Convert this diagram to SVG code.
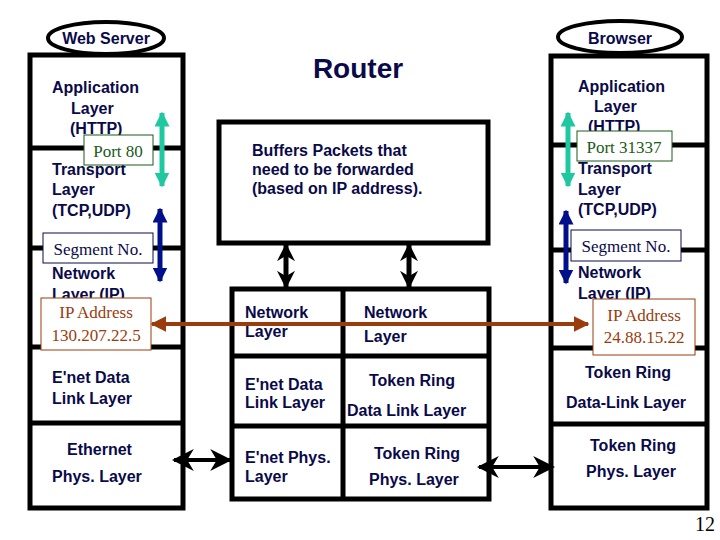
<svg xmlns="http://www.w3.org/2000/svg" width="720" height="540" viewBox="0 0 720 540">
<defs>
<style>
.box{fill:none;stroke:#000;stroke-width:5}
.ln{stroke:#000;stroke-width:5}
.t{font-family:"Liberation Sans",Arial,sans-serif;font-size:16px;font-weight:bold;fill:#0a0a4a}
.s{font-family:"Liberation Serif","Times New Roman",serif;font-size:17px}
</style>
<marker id="bk" viewBox="0 0 10 10" refX="9" refY="5" markerWidth="5.5" markerHeight="5.5" orient="auto-start-reverse"><path d="M0,0L10,5L0,10L3,5z" fill="#000"/></marker>
<marker id="bk2" viewBox="0 0 10 10" refX="9" refY="5" markerWidth="3.6" markerHeight="4.4" orient="auto-start-reverse"><path d="M0,0L10,5L0,10L3,5z" fill="#000"/></marker>
<marker id="tl" viewBox="0 0 10 10" refX="9" refY="5" markerWidth="3" markerHeight="3" orient="auto-start-reverse"><path d="M0,0L10,5L0,10z" fill="#1fc8a0"/></marker>
<marker id="bl" viewBox="0 0 10 10" refX="9" refY="5" markerWidth="3" markerHeight="3" orient="auto-start-reverse"><path d="M0,0L10,5L0,10z" fill="#00108a"/></marker>
<marker id="br" viewBox="0 0 10 10" refX="9" refY="5" markerWidth="4" markerHeight="4" orient="auto-start-reverse"><path d="M0,0L10,5L0,10z" fill="#9a3c0c"/></marker>
</defs>
<rect width="720" height="540" fill="#fff"/>

<g id="webserver">
<ellipse cx="106" cy="38" rx="58" ry="16" fill="#fff" stroke="#000" stroke-width="4"/>
<text class="t" x="106" y="44" text-anchor="middle">Web Server</text>
<rect class="box" x="30" y="55" width="153" height="453"/>
<line class="ln" x1="30" y1="148" x2="183" y2="148"/>
<line class="ln" x1="30" y1="248" x2="183" y2="248"/>
<line class="ln" x1="30" y1="347" x2="183" y2="347"/>
<line class="ln" x1="30" y1="423" x2="183" y2="423"/>
<text class="t" x="52" y="93">Application</text>
<text class="t" x="71" y="114">Layer</text>
<text class="t" x="70" y="134">(HTTP)</text>
<text class="t" x="52" y="175">Transport</text>
<text class="t" x="52" y="195">Layer</text>
<text class="t" x="52" y="216">(TCP,UDP)</text>
<text class="t" x="52" y="279">Network</text>
<text class="t" x="52" y="300">Layer (IP)</text>
<text class="t" x="52" y="383">E'net Data</text>
<text class="t" x="52" y="404">Link Layer</text>
<text class="t" x="67" y="455">Ethernet</text>
<text class="t" x="52" y="482">Phys. Layer</text>
<rect x="84" y="135" width="69" height="30" fill="#fff" stroke="#1a5a1a" stroke-width="1"/>
<text class="s" x="118" y="157" text-anchor="middle" fill="#1a5a1a">Port 80</text>
<rect x="43" y="233" width="110" height="30" fill="#fff" stroke="#0a0a4a" stroke-width="1"/>
<text class="s" x="98" y="255" text-anchor="middle" fill="#0a0a4a">Segment No.</text>
<rect x="41" y="298" width="110" height="52" fill="#fff" stroke="#9a3c0c" stroke-width="1"/>
<text class="s" x="96" y="318" text-anchor="middle" fill="#9a3c0c">IP Address</text>
<text class="s" x="96" y="341" text-anchor="middle" fill="#9a3c0c">130.207.22.5</text>
</g>

<g id="router">
<text x="358" y="78" text-anchor="middle" font-family="Liberation Sans,Arial,sans-serif" font-size="28" font-weight="bold" fill="#0a0a4a">Router</text>
<rect class="box" x="219" y="122" width="269" height="121"/>
<text class="t" x="252" y="156">Buffers Packets that</text>
<text class="t" x="252" y="175">need to be forwarded</text>
<text class="t" x="252" y="194">(based on IP address).</text>
<rect class="box" x="232" y="289" width="257" height="210"/>
<line class="ln" x1="232" y1="356" x2="489" y2="356"/>
<line class="ln" x1="232" y1="426" x2="489" y2="426"/>
<line class="ln" x1="343" y1="289" x2="343" y2="499"/>
<text class="t" x="245" y="318">Network</text>
<text class="t" x="245" y="337">Layer</text>
<text class="t" x="364" y="318">Network</text>
<text class="t" x="364" y="342">Layer</text>
<text class="t" x="245" y="390">E'net Data</text>
<text class="t" x="245" y="408">Link Layer</text>
<text class="t" x="369" y="386">Token Ring</text>
<text class="t" x="347" y="416">Data Link Layer</text>
<text class="t" x="245" y="463">E'net Phys.</text>
<text class="t" x="245" y="482">Layer</text>
<text class="t" x="374" y="459">Token Ring</text>
<text class="t" x="369" y="485">Phys. Layer</text>
</g>

<g id="browser">
<ellipse cx="620" cy="37" rx="62" ry="16" fill="#fff" stroke="#000" stroke-width="4"/>
<text class="t" x="620" y="44" text-anchor="middle">Browser</text>
<rect class="box" x="551" y="56" width="156" height="452"/>
<line class="ln" x1="551" y1="145" x2="707" y2="145"/>
<line class="ln" x1="551" y1="250" x2="707" y2="250"/>
<line class="ln" x1="551" y1="348" x2="707" y2="348"/>
<line class="ln" x1="551" y1="424" x2="707" y2="424"/>
<text class="t" x="578" y="92">Application</text>
<text class="t" x="594" y="112">Layer</text>
<text class="t" x="588" y="132">(HTTP)</text>
<text class="t" x="578" y="174">Transport</text>
<text class="t" x="578" y="195">Layer</text>
<text class="t" x="578" y="215">(TCP,UDP)</text>
<text class="t" x="578" y="278">Network</text>
<text class="t" x="578" y="299">Layer (IP)</text>
<text class="t" x="628" y="378" text-anchor="middle">Token Ring</text>
<text class="t" x="626" y="408" text-anchor="middle">Data-Link Layer</text>
<text class="t" x="633" y="451" text-anchor="middle">Token Ring</text>
<text class="t" x="631" y="477" text-anchor="middle">Phys. Layer</text>
<rect x="577" y="131" width="95" height="30" fill="#fff" stroke="#1a5a1a" stroke-width="1"/>
<text class="s" x="624" y="153" text-anchor="middle" fill="#1a5a1a">Port 31337</text>
<rect x="571" y="230" width="110" height="31" fill="#fff" stroke="#0a0a4a" stroke-width="1"/>
<text class="s" x="626" y="252" text-anchor="middle" fill="#0a0a4a">Segment No.</text>
<rect x="593" y="299" width="102" height="56" fill="#fff" stroke="#9a3c0c" stroke-width="1"/>
<text class="s" x="644" y="321" text-anchor="middle" fill="#9a3c0c">IP Address</text>
<text class="s" x="644" y="343" text-anchor="middle" fill="#9a3c0c">24.88.15.22</text>
</g>

<g id="connectors">
<line x1="162" y1="113" x2="162" y2="186" stroke="#1fc8a0" stroke-width="5" marker-start="url(#tl)" marker-end="url(#tl)"/>
<line x1="160" y1="209" x2="160" y2="281" stroke="#00108a" stroke-width="5" marker-start="url(#bl)" marker-end="url(#bl)"/>
<line x1="568" y1="113" x2="568" y2="186" stroke="#1fc8a0" stroke-width="5" marker-start="url(#tl)" marker-end="url(#tl)"/>
<line x1="566" y1="211" x2="566" y2="283" stroke="#00108a" stroke-width="5" marker-start="url(#bl)" marker-end="url(#bl)"/>
<line x1="152" y1="324" x2="588" y2="324" stroke="#9a3c0c" stroke-width="4" marker-start="url(#br)" marker-end="url(#br)"/>
<line x1="286" y1="245" x2="286" y2="287" stroke="#000" stroke-width="5" marker-start="url(#bk2)" marker-end="url(#bk2)"/>
<line x1="409" y1="245" x2="409" y2="287" stroke="#000" stroke-width="5" marker-start="url(#bk2)" marker-end="url(#bk2)"/>
<line x1="174" y1="460" x2="230" y2="460" stroke="#000" stroke-width="4" marker-start="url(#bk)" marker-end="url(#bk)"/>
<line x1="479" y1="467" x2="553" y2="467" stroke="#000" stroke-width="4" marker-start="url(#bk)" marker-end="url(#bk)"/>
</g>
<text x="705" y="531" text-anchor="middle" font-family="Liberation Serif,Times New Roman,serif" font-size="20" fill="#000">12</text>
</svg>
